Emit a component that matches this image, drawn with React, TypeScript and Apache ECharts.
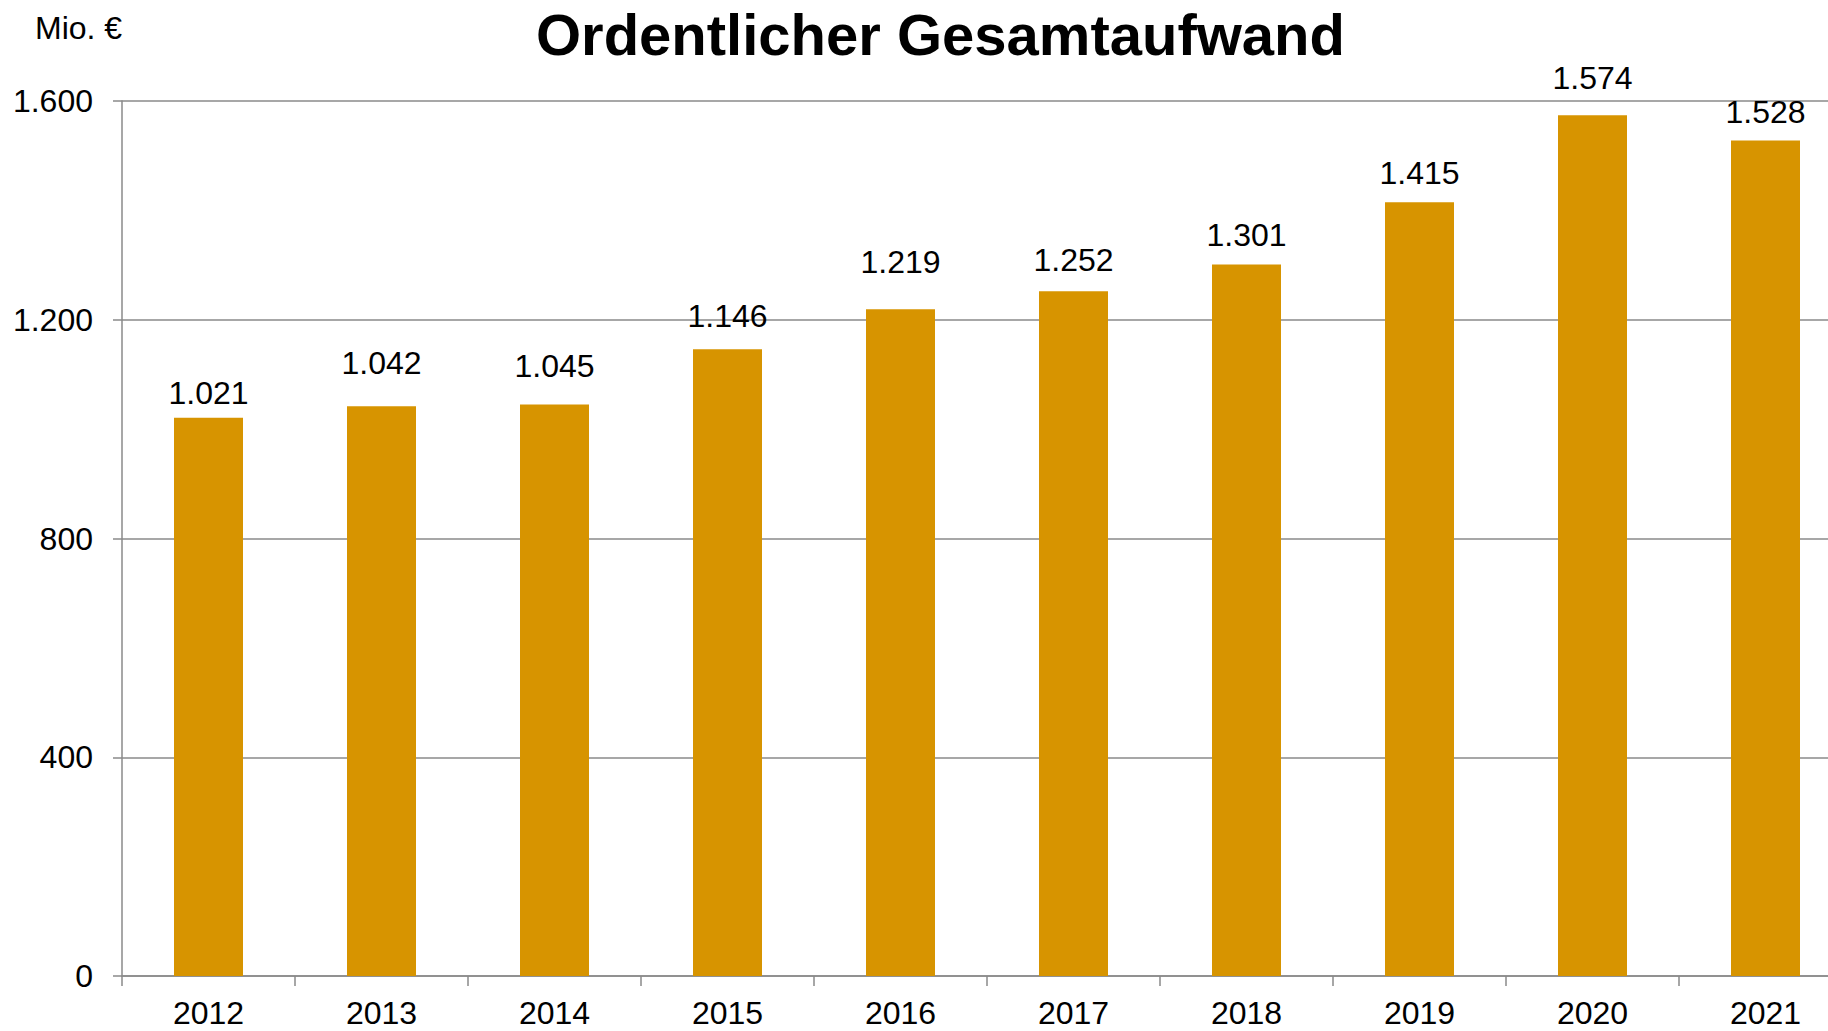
import React, { useEffect, useRef } from "react";
import * as echarts from "echarts";

const years = ["2012", "2013", "2014", "2015", "2016", "2017", "2018", "2019", "2020", "2021"];
const expenses = [1021, 1042, 1045, 1146, 1219, 1252, 1301, 1415, 1574, 1528];
const labelLift = [9, 27, 23, 17, 31, 15, 14, 13, 21, 12];

const fmt = (v: number) => {
  const s = Math.round(v).toString();
  return s.replace(/\B(?=(\d{3})+(?!\d))/g, ".");
};

export default function App() {
  const ref = useRef<HTMLDivElement>(null);
  useEffect(() => {
    if (!ref.current) return;
    const chart = echarts.init(ref.current, undefined, { renderer: "svg" });
    const font = "'Liberation Sans', Arial, sans-serif";
    chart.setOption({
      animation: false,
      backgroundColor: "#ffffff",
      textStyle: { fontFamily: font },
      title: {
        text: "Ordentlicher Gesamtaufwand",
        left: 536,
        top: 5,
        padding: 0,
        textStyle: { fontFamily: font, fontWeight: "bold", fontSize: 58, color: "#000" },
      },
      graphic: [
        {
          type: "text",
          left: 35,
          top: 12,
          style: { text: "Mio. €", fontFamily: font, fontSize: 32, fill: "#000" },
        },
      ],
      grid: { left: 122, top: 101, width: 1730, height: 875, containLabel: false },
      xAxis: {
        type: "category",
        data: years,
        boundaryGap: true,
        axisLine: { show: true, lineStyle: { color: "#8a8a8a", width: 1.5 } },
        axisTick: { show: true, length: 10, lineStyle: { color: "#8a8a8a", width: 1.5 } },
        axisLabel: { fontFamily: font, fontSize: 32, color: "#000", margin: 21 },
      },
      yAxis: {
        type: "value",
        min: 0,
        max: 1600,
        interval: 400,
        axisLine: { show: true, lineStyle: { color: "#8a8a8a", width: 1.5 } },
        axisTick: { show: true, length: 9, lineStyle: { color: "#8a8a8a", width: 1.5 } },
        splitLine: { show: true, lineStyle: { color: "#8a8a8a", width: 1.5 } },
        axisLabel: {
          fontFamily: font,
          fontSize: 32,
          color: "#000",
          margin: 29,
          formatter: (v: number) => fmt(v),
        },
      },
      series: [
        {
          type: "bar",
          barWidth: 69,
          itemStyle: { color: "#D79400" },
          data: expenses.map((v, i) => ({
            value: v,
            label: { distance: labelLift[i] },
          })),
          label: {
            show: true,
            position: "top",
            fontFamily: font,
            fontSize: 32,
            color: "#000",
            formatter: (p: any) => fmt(p.value),
          },
        },
      ],
    });
    return () => chart.dispose();
  }, []);
  return (
    <div
      ref={ref}
      style={{ position: "fixed", left: 0, top: 0, width: 1860, height: 1031 }}
    />
  );
}
